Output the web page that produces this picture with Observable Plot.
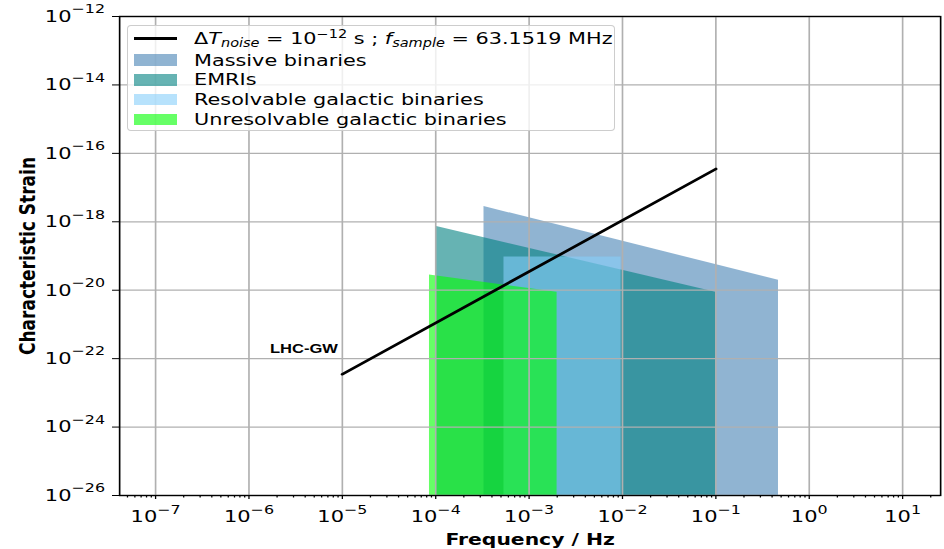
<!DOCTYPE html>
<html><head><meta charset="utf-8">
<script src="https://cdn.jsdelivr.net/npm/d3@7"></script>
<script src="https://cdn.jsdelivr.net/npm/@observablehq/plot@0.6"></script>
<style>
html,body{margin:0;padding:0;background:#fff;}
#wrap{position:relative;width:944px;height:549px;font-family:"DejaVu Sans",sans-serif;overflow:hidden;}
#wrap svg{display:block;}
.legend{position:absolute;left:127px;top:25px;width:488px;height:106px;box-sizing:border-box;border:1px solid rgba(200,200,200,0.9);border-radius:4px;background:rgba(255,255,255,0.8);}
.lh{position:absolute;left:6px;width:43px;}
.lt{position:absolute;left:66px;font-size:16.5px;line-height:20px;white-space:nowrap;transform:scaleX(1.26);transform-origin:0 0;color:#000;}
.sub{font-size:11.5px;position:relative;top:3.4px;}
.sup{font-size:11.5px;position:relative;top:-6px;}
</style></head>
<body><div id="wrap"></div>
<script>
// ---------------- data ----------------
const seriesNames = ["Massive binaries", "EMRIs", "Resolvable galactic binaries", "Unresolvable galactic binaries"];
const seriesColors = ["#4682b4", "#008080", "#87cefa", "#00ff00"];
const massiveFreq = [3.3e-4, 0.47];
const massiveStrain = [2.8e-18, 1.95e-20];
const emriFreq = [1e-4, 1e-1];
const emriStrain = [7.4e-19, 8.7e-21];
const resolvableFreq = [5.4e-4, 9.7e-3];
const resolvableStrain = [9.3e-20, 9.3e-20];
const unresolvableFreq = [8.6e-5, 2.0e-3];
const unresolvableStrain = [2.8e-20, 8.7e-21];
const lhcFreq = [1e-5, 1e-1];
const lhcStrain = [3.5e-23, 3.5e-17];
const annotText = ["LHC-GW"];
const annotFreq = [1e-5];
const annotStrain = [2e-22];
const xTickExps = [-7, -6, -5, -4, -3, -2, -1, 0, 1];
const yTickExps = [-26, -24, -22, -20, -18, -16, -14, -12];
const minorMultipliers = [2, 3, 4, 5, 6, 7, 8, 9];
const xLabel = "Frequency / Hz";
const yLabel = "Characteristic Strain";
const xDomainExp = [-7.385, 1.407];
const yDomainExp = [-26, -12];

// ---------------- build ----------------
const S = 1.2705;             // horizontal stretch of the original figure
const W = 944 / S, H = 549;
const yFloor = 10 ** yDomainExp[0];
const freqs = [massiveFreq, emriFreq, resolvableFreq, unresolvableFreq];
const strains = [massiveStrain, emriStrain, resolvableStrain, unresolvableStrain];
const areaData = freqs.map((f, i) => f.map((x, j) => ({x, y: strains[i][j]})));
const lineData = lhcFreq.map((x, j) => ({x, y: lhcStrain[j]}));
const annotData = annotText.map((t, i) => ({t, x: annotFreq[i], y: annotStrain[i]}));
const xMajor = xTickExps.map(e => 10 ** e);
const yMajor = yTickExps.map(e => 10 ** e);
const xMinor = [];
for (let e = -8; e <= 1; e++) for (const m of minorMultipliers) {
  const v = m * 10 ** e;
  if (Math.log10(v) > xDomainExp[0] && Math.log10(v) < xDomainExp[1]) xMinor.push(v);
}
const fmt = d => "10^" + String(Math.round(Math.log10(d))).replace("-", "\u2212");

const svg = Plot.plot({
  width: W, height: H,
  marginLeft: 119 / S, marginRight: W - 940 / S, marginTop: 16, marginBottom: 54,
  style: {fontFamily: "DejaVu Sans", fontSize: "16.5px", background: "white", color: "black", overflow: "visible"},
  x: {type: "log", domain: xDomainExp.map(e => 10 ** e), label: null},
  y: {type: "log", domain: yDomainExp.map(e => 10 ** e), label: null},
  marks: [
    ...areaData.map((d, i) => Plot.areaY(d, {x: "x", y1: () => yFloor, y2: "y", fill: seriesColors[i], fillOpacity: 0.6})),
    Plot.gridX(xMajor, {stroke: "#b0b0b0", strokeOpacity: 1, strokeWidth: 1.3}),
    Plot.gridY(yMajor, {stroke: "#b0b0b0", strokeOpacity: 1, strokeWidth: 1.3}),
    Plot.line(lineData, {x: "x", y: "y", stroke: "black", strokeWidth: 2.6}),
    Plot.axisX({ticks: xMinor, tickSize: 2.5, tickFormat: () => "", label: null}),
    Plot.axisX({ticks: xMajor, tickSize: 4, tickPadding: 11, tickFormat: fmt, fontSize: 16.5, label: null}),
    Plot.axisY({ticks: yMajor, tickSize: 5.5, tickPadding: 6, tickFormat: fmt, fontSize: 16.5, label: null}),
    Plot.frame({stroke: "black", strokeWidth: 1.3}),
    Plot.text(annotData, {x: "x", y: "y", text: "t", textAnchor: "end", dx: -3.5, fontFamily: "Liberation Sans", fontWeight: "bold", fontSize: 13}),
    Plot.text([xLabel], {text: d => d, frameAnchor: "bottom", lineAnchor: "middle", dy: 44.2, fontWeight: "bold", fontSize: 16}),
    Plot.text([yLabel], {text: d => d, frameAnchor: "left", lineAnchor: "middle", textAnchor: "middle", rotate: -90, dx: -72.3, fontWeight: "bold", fontSize: 17})
  ]
});

// superscripts for tick labels
d3.select(svg).selectAll("text").each(function() {
  const t = this.textContent;
  const m = /^10\^(\u2212?\d+)$/.exec(t);
  if (!m) return;
  this.textContent = "10";
  const ts = document.createElementNS("http://www.w3.org/2000/svg", "tspan");
  ts.setAttribute("dy", "-8.5");
  ts.setAttribute("font-size", "12.5");
  ts.textContent = m[1];
  this.appendChild(ts);
});

svg.setAttribute("width", 944);
svg.setAttribute("height", 549);
svg.setAttribute("preserveAspectRatio", "none");
svg.style.width = "944px";
svg.style.height = "549px";
svg.style.maxWidth = "none";
const wrap = document.getElementById("wrap");
wrap.appendChild(svg);

// ---------------- legend ----------------
const leg = document.createElement("div");
leg.className = "legend";
const lineHandle = document.createElement("div");
lineHandle.className = "lh";
lineHandle.style.top = "11.2px"; lineHandle.style.height = "2.5px"; lineHandle.style.background = "black";
leg.appendChild(lineHandle);
const firstLabel = document.createElement("div");
firstLabel.className = "lt";
firstLabel.style.top = (18.3 - 15.7) + "px";
firstLabel.innerHTML = 'Δ<i>T</i><span class="sub"><i>noise</i></span> = 10<span class="sup">−12</span> s ; <i>f</i><span class="sub"><i>sample</i></span> = 63.1519 MHz';
leg.appendChild(firstLabel);
const patchTops = [28.3, 48.3, 67.7, 87.7];
const baselines = [40.3, 60.1, 79.9, 99.7];
seriesNames.forEach((name, i) => {
  const p = document.createElement("div");
  p.className = "lh";
  p.style.top = patchTops[i] + "px"; p.style.height = "11.7px";
  p.style.background = seriesColors[i]; p.style.opacity = 0.6;
  leg.appendChild(p);
  const t = document.createElement("div");
  t.className = "lt";
  t.style.top = (baselines[i] - 15.7) + "px";
  t.textContent = name;
  leg.appendChild(t);
});
wrap.appendChild(leg);
</script>
</body></html>
